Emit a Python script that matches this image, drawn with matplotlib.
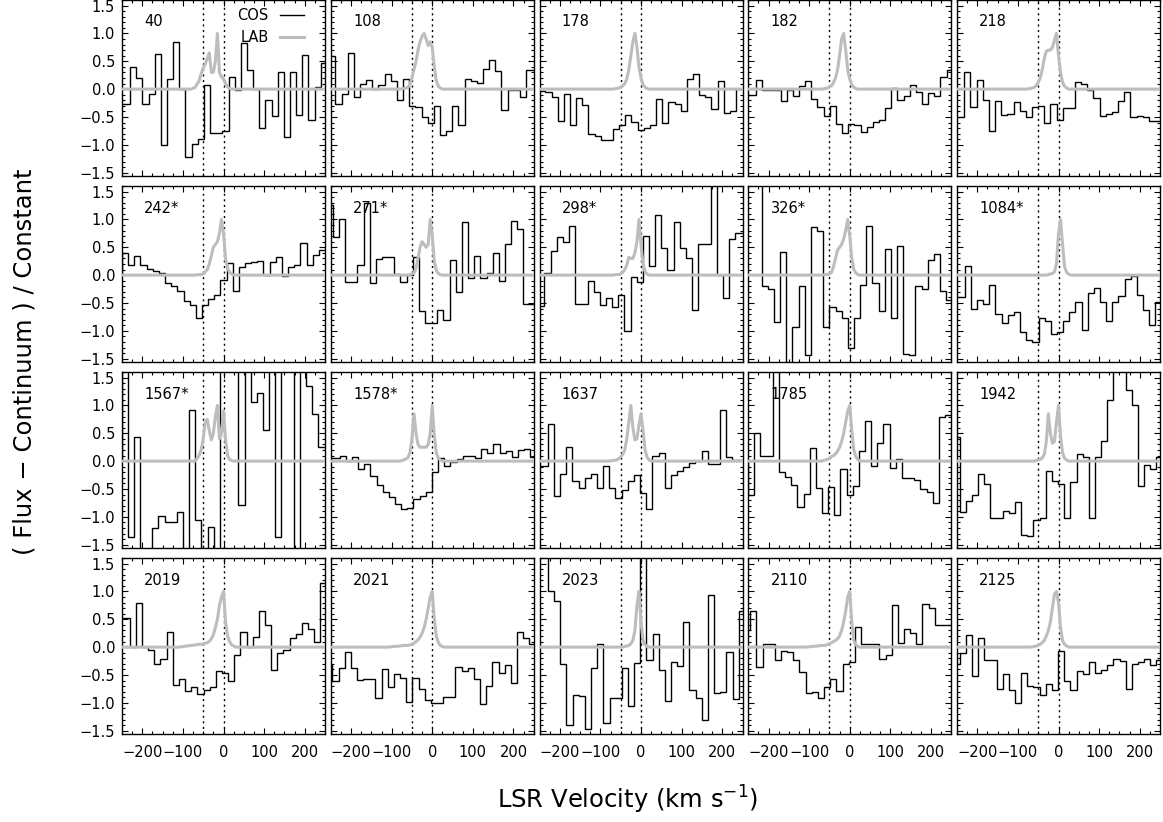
import matplotlib
matplotlib.use('Agg')
import matplotlib.pyplot as plt
import numpy as np
from matplotlib.ticker import MultipleLocator
from matplotlib.lines import Line2D

plt.rcParams['font.family'] = ['DejaVu Sans']

# sightline names, row by row
NAMES = ['40', '108', '178', '182', '218',
         '242*', '271*', '298*', '326*', '1084*',
         '1567*', '1578*', '1637', '1785', '1942',
         '2019', '2021', '2023', '2110', '2125']

# COS spectra: left edge of first bin (km/s) and binned values
BIN_WIDTH = 15.15
COS_START = [-260.3, -253.7, -250.7, -261.3, -262.3,
             -250.0, -260.2, -252.9, -262.3, -261.3,
             -251.2, -258.3, -259.8, -250.2, -258.6,
             -261.3, -261.0, -259.3, -260.2, -258.6]

cos_40 = [-0.26, -0.26, 0.39, 0.2, -0.26, -0.09, 0.63, -1.0, 0.18, 0.85, 0.0, -1.22, -0.98, -0.9, 0.07, -0.78, -0.78,
          -0.76, 0.21, -0.01, 0.83, 0.35, 0.0, -0.69, -0.2, -0.48, 0.3, -0.86, 0.3, -0.47, 0.62, -0.56, 0.03, 0.47]
cos_108 = [0.6, -0.26, -0.08, 0.64, -0.15, 0.1, 0.17, 0.0, 0.08, 0.27, 0.15, -0.19, 0.19, -0.31, -0.33, -0.5, -0.6,
           -0.3, -0.82, -0.76, -0.3, -0.64, 0.19, 0.15, 0.11, 0.37, 0.53, 0.32, -0.38, -0.02, -0.02, -0.15, 0.35, 0.35]
cos_178 = [-0.03, -0.05, -0.14, -0.57, -0.08, -0.65, -0.16, -0.28, -0.8, -0.84, -0.92, -0.91, -0.72, -0.65, -0.47,
           -0.59, -0.73, -0.69, -0.64, -0.17, -0.6, -0.24, -0.26, -0.4, 0.19, 0.27, -0.1, -0.14, -0.35, 0.14, -0.42,
           -0.4, 0.0, 0.0]
cos_182 = [-0.1, -0.1, 0.16, -0.02, -0.01, -0.02, -0.22, -0.01, -0.12, 0.06, 0.14, -0.18, -0.32, -0.48, -0.3, -0.62,
           -0.78, -0.62, -0.65, -0.77, -0.68, -0.59, -0.56, -0.34, 0.02, -0.19, -0.12, 0.08, -0.05, -0.26, -0.07,
           -0.12, 0.22, 0.35]
cos_218 = [-0.5, -0.5, 0.3, -0.32, 0.16, -0.19, -0.75, -0.22, -0.47, -0.45, -0.24, -0.4, -0.5, -0.32, -0.31, -0.6,
           -0.27, -0.55, -0.34, -0.34, 0.12, 0.09, -0.01, -0.16, -0.48, -0.44, -0.41, -0.22, -0.05, -0.5, -0.48, -0.5,
           -0.58, -0.58]
cos_242 = [0.39, 0.19, 0.35, 0.19, 0.11, 0.07, 0.03, -0.15, -0.19, -0.29, -0.46, -0.53, -0.77, -0.53, -0.43, -0.36,
           -0.09, 0.21, -0.29, 0.15, 0.21, 0.24, 0.26, 0.01, 0.24, 0.32, -0.01, 0.15, 0.19, 0.58, 0.18, 0.36, 0.45,
           0.45]
cos_271 = [1.25, 0.68, 1.0, -0.12, -0.12, 0.19, 1.3, -0.15, 0.29, 0.32, 0.32, 0.02, -0.13, 0.0, 0.33, -0.65, -0.86,
           -0.86, -0.63, -0.8, 0.28, -0.31, 0.95, -0.06, 0.35, -0.06, 0.03, 0.4, -0.1, 0.56, 0.98, 0.83, -0.52, -0.52]
cos_298 = [-0.55, 0.04, 0.43, 0.69, 0.6, 0.89, -0.52, -0.52, -0.1, -0.3, -0.54, -0.41, -0.57, -0.36, -1.0, -0.03,
           -0.12, 0.7, 0.16, 1.08, 0.49, 0.09, 0.95, 0.49, 0.3, -0.62, 0.55, 0.55, 2.0, 0.0, -0.41, 0.64, 0.75, 0.75]
cos_326 = [2.0, 2.0, 2.0, -0.2, -0.25, -0.85, 0.41, -2.0, -0.93, -0.19, -1.44, 0.87, 0.8, -0.94, -0.57, -0.64, -0.77,
           -1.3, -0.77, -0.17, 0.89, -0.15, -0.64, 0.47, -0.77, 0.53, -1.41, -1.44, -0.2, -0.25, 0.28, 0.38, -0.28,
           -0.44]
cos_1084 = [-0.4, -0.4, 0.17, -0.6, -0.45, -0.52, -0.18, -0.69, -0.86, -0.72, -0.67, -1.02, -1.17, -1.2, -0.77, -0.83,
            -1.05, -1.02, -0.82, -0.67, -0.48, -0.99, -0.32, -0.24, -0.48, -0.83, -0.48, -0.37, -0.07, -0.01, -0.35,
            -0.63, -0.9, -0.49]
cos_1567 = [2.0, -1.36, 0.43, -2.0, -2.0, -1.2, -0.99, -1.09, -1.09, -0.91, -2.0, 0.91, -1.05, -2.0, -1.18, -2.0,
            2.0, 2.0, 2.0, -0.78, 2.0, 1.07, 1.23, 0.56, 2.0, -1.37, 2.0, 2.0, -2.0, 2.0, 1.34, 0.84, 0.26, 0.26]
cos_1578 = [0.06, 0.06, 0.1, 0.0, 0.08, -0.14, -0.05, -0.27, -0.43, -0.55, -0.64, -0.77, -0.86, -0.85, -0.68, -0.62,
            -0.56, -0.19, 0.06, -0.09, -0.02, 0.03, 0.09, 0.09, 0.05, 0.22, 0.15, 0.3, 0.15, 0.18, 0.08, 0.2, 0.22,
            0.08]
cos_1637 = [-0.08, -0.08, 0.67, -0.62, -0.24, 0.26, -0.35, -0.49, -0.3, -0.23, -0.49, -0.09, -0.49, -0.66, -0.52,
            -0.35, -0.25, -0.57, -0.86, 0.09, 0.15, -0.49, -0.25, -0.18, -0.11, -0.04, 0.0, 0.19, -0.05, -0.05, 0.91,
            0.07, 0.02, 0.02]
cos_1785 = [-0.61, 0.5, 0.09, 0.09, 2.0, -0.2, -0.28, -0.43, -0.82, -0.59, 0.23, -0.48, -0.93, -0.47, -0.97, -0.15,
            -0.61, -0.45, 0.18, 0.72, -0.09, 0.33, 0.67, -0.12, 0.03, -0.31, -0.3, -0.34, -0.5, -0.56, -0.76, 0.8,
            0.83, 0.83]
cos_1942 = [0.43, -0.92, -0.72, -0.61, -0.23, -0.41, -1.03, -1.03, -0.89, -0.93, -0.73, -1.33, -1.35, -1.05, -1.02,
            -0.18, -0.35, -0.41, -1.03, -0.38, 0.13, 0.08, -1.03, 0.08, 0.37, 1.1, 2.0, 2.0, 1.28, 1.01, -0.45, -0.07,
            -0.15, 0.08]
cos_2019 = [0.52, 0.52, 0.0, 0.8, 0.0, -0.05, -0.3, -0.22, 0.27, -0.68, -0.57, -0.78, -0.72, -0.85, -0.77, -0.72,
            -0.42, -0.47, -0.61, -0.14, 0.27, 0.0, 0.19, 0.65, 0.4, -0.41, -0.1, -0.06, 0.16, 0.23, 0.44, 0.32, 0.1,
            1.15]
cos_2021 = [-0.32, -0.6, -0.38, -0.08, -0.38, -0.59, -0.58, -0.58, -0.92, -0.4, -0.71, -0.49, -0.55, -0.99, -0.56,
            -0.75, -0.95, -1.0, -1.0, -0.9, -0.9, -0.35, -0.43, -0.37, -0.58, -1.03, -0.69, -0.26, -0.47, -0.32,
            -0.64, 0.27, 0.17, 0.05]
cos_2023 = [2.0, 2.0, 1.0, 0.82, -0.31, -1.39, -0.86, -0.88, -1.47, -0.37, 0.05, -1.36, -0.92, -0.92, -0.38, -1.06,
            -0.28, 2.0, -0.23, 0.24, -0.41, -0.96, -0.27, -0.34, 0.45, -0.77, -0.92, -1.3, 0.94, -0.82, -0.81, -0.09,
            -0.94, 0.64]
cos_2110 = [0.3, 0.65, -0.36, 0.06, 0.05, -0.23, -0.07, -0.08, -0.23, -0.44, -0.82, -0.8, -0.92, -0.71, -0.58, -0.78,
            -0.3, -0.26, 0.37, 0.05, 0.06, 0.06, -0.21, -0.15, 0.76, 0.07, 0.32, 0.26, 0.06, 0.77, 0.7, 0.39, 0.39,
            0.39]
cos_2125 = [-0.31, -0.1, 0.21, -0.52, 0.16, -0.23, -0.24, -0.75, -0.49, -0.77, -1.0, -0.46, -0.69, -0.71, -0.86,
            -0.66, -0.77, -0.07, -0.6, -0.77, -0.42, -0.48, -0.27, -0.46, -0.41, -0.33, -0.22, -0.25, -0.75, -0.31,
            -0.27, -0.21, -0.32, -0.24]

COS = [cos_40, cos_108, cos_178, cos_182, cos_218,
       cos_242, cos_271, cos_298, cos_326, cos_1084,
       cos_1567, cos_1578, cos_1637, cos_1785, cos_1942,
       cos_2019, cos_2021, cos_2023, cos_2110, cos_2125]

# LAB 21cm profiles (normalised), sampled on a shared velocity grid
LAB_V = [-250, -200, -150, -110, -80, -70, -60, -55, -50, -45, -40, -35, -30, -25, -20, -15,
         -10, -5, 0, 5, 10, 15, 20, 25, 30, 40, 60, 100, 150, 200, 250]

lab_40 = [0, 0, 0, 0, 0, 0.03, 0.15, 0.28, 0.38, 0.45, 0.55, 0.65, 0.3, 0.3, 0.5, 1.0,
          0.3, 0.22, 0.18, 0.1, 0.04, 0.01, 0, 0, 0, 0, 0, 0, 0, 0, 0]
lab_108 = [0, 0, 0, 0, 0, 0.01, 0.03, 0.08, 0.2, 0.35, 0.5, 0.7, 0.85, 0.95, 1.0, 0.9,
           0.78, 0.85, 0.75, 0.4, 0.15, 0.05, 0.02, 0, 0, 0, 0, 0, 0, 0, 0]
lab_178 = [0, 0, 0, 0, 0, 0, 0.01, 0.02, 0.03, 0.06, 0.1, 0.18, 0.35, 0.6, 0.85, 1.0,
           0.75, 0.4, 0.2, 0.08, 0.03, 0.01, 0, 0, 0, 0, 0, 0, 0, 0, 0]
lab_182 = [0, 0, 0, 0, 0, 0, 0.01, 0.02, 0.04, 0.06, 0.12, 0.2, 0.35, 0.6, 0.9, 1.0,
           0.7, 0.35, 0.18, 0.08, 0.03, 0.01, 0, 0, 0, 0, 0, 0, 0, 0, 0]
lab_218 = [0, 0, 0, 0, 0, 0.01, 0.03, 0.06, 0.12, 0.2, 0.35, 0.55, 0.68, 0.7, 0.7, 0.75,
           0.88, 1.0, 0.6, 0.3, 0.12, 0.05, 0.02, 0, 0, 0, 0, 0, 0, 0, 0]
lab_242 = [0, 0, 0, 0, 0, 0, 0.01, 0.01, 0.02, 0.06, 0.1, 0.2, 0.35, 0.5, 0.55, 0.6,
           0.75, 1.0, 0.75, 0.3, 0.12, 0.05, 0.02, 0, 0, 0, 0, 0, 0, 0, 0]
lab_271 = [0, 0, 0, 0, 0, 0, 0, 0.01, 0.02, 0.04, 0.12, 0.3, 0.5, 0.6, 0.55, 0.5,
           0.55, 1.0, 0.7, 0.25, 0.08, 0.03, 0.01, 0, 0, 0, 0, 0, 0, 0, 0]
lab_298 = [0, 0, 0, 0, 0, 0, 0.01, 0.01, 0.02, 0.05, 0.1, 0.18, 0.32, 0.3, 0.3, 0.4,
           0.6, 1.0, 0.55, 0.2, 0.06, 0.02, 0, 0, 0, 0, 0, 0, 0, 0, 0]
lab_326 = [0, 0, 0, 0, 0, 0, 0.01, 0.01, 0.02, 0.05, 0.15, 0.3, 0.45, 0.5, 0.55, 0.65,
           0.8, 1.0, 0.7, 0.3, 0.1, 0.04, 0.01, 0, 0, 0, 0, 0, 0, 0, 0]
lab_1084 = [0, 0, 0, 0, 0, 0, 0, 0, 0, 0, 0, 0, 0, 0.01, 0.02, 0.03,
            0.06, 0.2, 0.75, 1.0, 0.55, 0.15, 0.05, 0.02, 0, 0, 0, 0, 0, 0, 0]
lab_1567 = [0, 0, 0, 0, 0, 0.0, 0.1, 0.2, 0.4, 0.7, 0.75, 0.55, 0.38, 0.5, 0.8, 1.0,
            0.4, 0.5, 0.9, 0.4, 0.1, 0.03, 0.01, 0, 0, 0, 0, 0, 0, 0, 0]
lab_1578 = [0, 0, 0, 0, 0, 0.02, 0.06, 0.15, 0.4, 0.85, 0.5, 0.3, 0.25, 0.25, 0.25, 0.25,
            0.3, 0.5, 1.0, 0.45, 0.15, 0.05, 0.02, 0, 0, 0, 0, 0, 0, 0, 0]
lab_1637 = [0, 0, 0, 0, 0, 0.01, 0.02, 0.04, 0.08, 0.12, 0.2, 0.4, 0.7, 1.0, 0.6, 0.38,
            0.4, 0.65, 0.85, 0.55, 0.2, 0.07, 0.02, 0, 0, 0, 0, 0, 0, 0, 0]
lab_1785 = [0, 0, 0, 0, 0, 0, 0.02, 0.03, 0.05, 0.08, 0.1, 0.13, 0.18, 0.25, 0.35, 0.5,
            0.7, 0.9, 1.0, 0.55, 0.2, 0.08, 0.03, 0, 0, 0, 0, 0, 0, 0, 0]
lab_1942 = [0, 0, 0, 0, 0, 0, 0, 0.01, 0.02, 0.03, 0.06, 0.12, 0.35, 0.85, 0.5, 0.32,
            0.35, 0.7, 1.0, 0.45, 0.15, 0.05, 0.02, 0, 0, 0, 0, 0, 0, 0, 0]
lab_2019 = [0, 0, 0, 0, 0.03, 0.04, 0.05, 0.05, 0.06, 0.07, 0.08, 0.1, 0.15, 0.22, 0.35, 0.5,
            0.75, 0.9, 1.0, 0.45, 0.2, 0.1, 0.04, 0.02, 0, 0, 0, 0, 0, 0, 0]
lab_2021 = [0, 0, 0, 0, 0.02, 0.03, 0.03, 0.04, 0.05, 0.07, 0.1, 0.13, 0.18, 0.25, 0.35, 0.5,
            0.7, 0.9, 1.0, 0.5, 0.2, 0.08, 0.03, 0.01, 0, 0, 0, 0, 0, 0, 0]
lab_2023 = [0, 0, 0, 0, 0, 0, 0, 0, 0, 0, 0.01, 0.02, 0.03, 0.06, 0.12, 0.3,
            0.75, 1.0, 0.45, 0.12, 0.04, 0.01, 0, 0, 0, 0, 0, 0, 0, 0, 0]
lab_2110 = [0, 0, 0, 0, 0.02, 0.03, 0.03, 0.05, 0.06, 0.08, 0.1, 0.12, 0.15, 0.2, 0.3, 0.45,
            0.65, 0.9, 1.0, 0.45, 0.12, 0.04, 0.01, 0, 0, 0, 0, 0, 0, 0, 0]
lab_2125 = [0, 0, 0, 0, 0, 0, 0.01, 0.02, 0.03, 0.05, 0.08, 0.12, 0.2, 0.3, 0.45, 0.7,
            0.95, 1.0, 0.8, 0.35, 0.12, 0.05, 0.02, 0, 0, 0, 0, 0, 0, 0, 0]

LAB = [lab_40, lab_108, lab_178, lab_182, lab_218,
       lab_242, lab_271, lab_298, lab_326, lab_1084,
       lab_1567, lab_1578, lab_1637, lab_1785, lab_1942,
       lab_2019, lab_2021, lab_2023, lab_2110, lab_2125]

MARKERS = [-50, 0]  # dotted velocity markers
LAB_COLOR = '#bdbdbd'


def main():
    fig = plt.figure(figsize=(11.63, 8.22), dpi=100)

    for i, name in enumerate(NAMES):
        row, col = divmod(i, 5)
        left = (122 + col * 208.75) / 1163
        bottom = 1 - (176 + row * 186) / 822
        ax = fig.add_axes([left, bottom, 203 / 1163, 176 / 822])

        for v in MARKERS:
            ax.axvline(v, color='k', lw=1.0, ls=(0, (1.5, 2.5)), zorder=1)

        vals = COS[i]
        edges = COS_START[i] + BIN_WIDTH * np.arange(len(vals) + 1)
        ax.stairs(vals, edges, color='k', lw=1.0, zorder=2)
        lab_line, = ax.plot(LAB_V, LAB[i], color=LAB_COLOR, lw=2.2, zorder=3)

        ax.set_xlim(-250, 250)
        ax.set_ylim(-1.56, 1.6)
        ax.xaxis.set_major_locator(MultipleLocator(100))
        ax.xaxis.set_minor_locator(MultipleLocator(25))
        ax.yaxis.set_major_locator(MultipleLocator(0.5))
        ax.yaxis.set_minor_locator(MultipleLocator(0.1))
        ax.tick_params(which='both', direction='in', top=True, right=True, width=0.8)
        ax.tick_params(which='major', length=4)
        ax.tick_params(which='minor', length=2)
        ax.tick_params(axis='x', labelsize=10.5, pad=8, labelbottom=(row == 3))
        ax.tick_params(axis='y', labelsize=10.5, pad=5, labelleft=(col == 0))
        for sp in ax.spines.values():
            sp.set_linewidth(1.0)

        ax.text(0.11, 0.875, name, transform=ax.transAxes, fontsize=10.5, va='center')

        if i == 0:
            h_cos = Line2D([], [], color='k', lw=1.0)
            ax.legend([h_cos, lab_line], ['COS', 'LAB'], loc='upper left',
                      bbox_to_anchor=(0.54, 0.985), frameon=False, markerfirst=False,
                      handlelength=1.6, handletextpad=0.8, labelspacing=0.45,
                      borderaxespad=0, fontsize=10.5)

    fig.text(0.021, 0.56, '( Flux \u2212 Continuum ) / Constant', rotation=90,
             fontsize=17.5, ha='center', va='center')
    fig.text(0.54, 0.027, 'LSR Velocity (km s$^{-1}$)', fontsize=17.5, ha='center', va='center')

    fig.savefig('out.png', dpi=100)


if __name__ == "__main__":
    main()
